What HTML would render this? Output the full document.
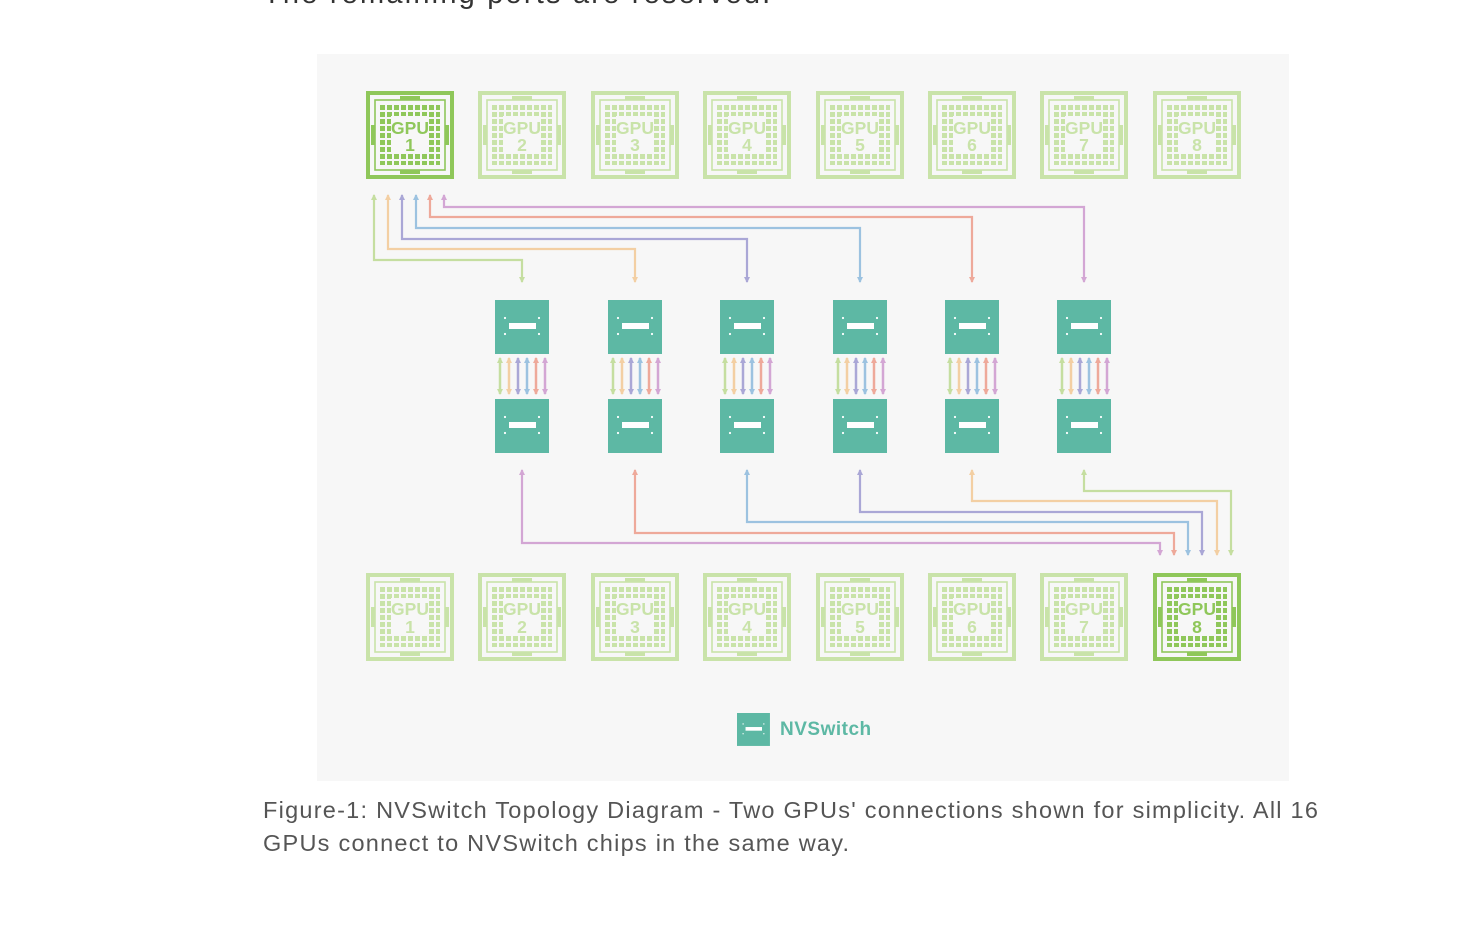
<!DOCTYPE html>
<html><head><meta charset="utf-8"><style>
html,body{margin:0;padding:0;background:#fff;width:1482px;height:936px;overflow:hidden;font-family:"Liberation Sans",sans-serif}
.t{position:absolute;left:263px;color:#333;font-size:29px;top:-22px;letter-spacing:2.2px}
.cap{position:absolute;left:263px;top:794px;color:#555;font-size:23.5px;line-height:33px;letter-spacing:1.25px}
svg{position:absolute;left:0;top:0}
</style></head><body>
<div class="t">The remaining ports are reserved.</div>
<svg width="1482" height="936" viewBox="0 0 1482 936">
<defs>
<pattern id="gl" x="0" y="0" width="7" height="7" patternUnits="userSpaceOnUse"><rect x="0" y="0" width="5" height="5" fill="#c9e3a9"/></pattern>
<pattern id="gd" x="0" y="0" width="7" height="7" patternUnits="userSpaceOnUse"><rect x="0" y="0" width="5" height="5" fill="#8fc75a"/></pattern>
<g id="gpuL">
<rect x="2" y="2" width="84" height="84" fill="#f7f7f7" stroke="#c9e3a9" stroke-width="4"/>
<rect x="9" y="9" width="70" height="70" fill="none" stroke="#c9e3a9" stroke-width="1.6"/>
<rect x="34" y="5" width="20" height="4" fill="#c9e3a9"/><rect x="34" y="79" width="20" height="4" fill="#c9e3a9"/>
<rect x="5" y="34" width="4" height="20" fill="#c9e3a9"/><rect x="79" y="34" width="4" height="20" fill="#c9e3a9"/>
<rect x="13" y="13" width="61" height="61" fill="url(#gl)"/>
<rect x="25" y="25" width="38" height="38" fill="#f7f7f7"/>
</g>
<g id="gpuD">
<rect x="2" y="2" width="84" height="84" fill="#f7f7f7" stroke="#8fc75a" stroke-width="4"/>
<rect x="9" y="9" width="70" height="70" fill="none" stroke="#8fc75a" stroke-width="1.6"/>
<rect x="34" y="5" width="20" height="4" fill="#8fc75a"/><rect x="34" y="79" width="20" height="4" fill="#8fc75a"/>
<rect x="5" y="34" width="4" height="20" fill="#8fc75a"/><rect x="79" y="34" width="4" height="20" fill="#8fc75a"/>
<rect x="13" y="13" width="61" height="61" fill="url(#gd)"/>
<rect x="25" y="25" width="38" height="38" fill="#f7f7f7"/>
</g>
<g id="sw">
<rect x="0" y="0" width="54" height="54" fill="#5db8a4"/>
<rect x="14" y="23" width="27" height="6" fill="#fff"/>
<circle cx="10" cy="18" r="1.1" fill="#fff"/><circle cx="44" cy="18" r="1.1" fill="#fff"/>
<circle cx="10" cy="34" r="1.1" fill="#fff"/><circle cx="44" cy="34" r="1.1" fill="#fff"/>
</g>
<marker id="mg" viewBox="0 0 6 6" refX="5" refY="3" markerWidth="6" markerHeight="6" markerUnits="userSpaceOnUse" orient="auto-start-reverse"><path d="M0,0L6,3L0,6z" fill="#c5dea0"/></marker>
<marker id="mo" viewBox="0 0 6 6" refX="5" refY="3" markerWidth="6" markerHeight="6" markerUnits="userSpaceOnUse" orient="auto-start-reverse"><path d="M0,0L6,3L0,6z" fill="#f3cfa3"/></marker>
<marker id="mp" viewBox="0 0 6 6" refX="5" refY="3" markerWidth="6" markerHeight="6" markerUnits="userSpaceOnUse" orient="auto-start-reverse"><path d="M0,0L6,3L0,6z" fill="#aaa7d6"/></marker>
<marker id="mb" viewBox="0 0 6 6" refX="5" refY="3" markerWidth="6" markerHeight="6" markerUnits="userSpaceOnUse" orient="auto-start-reverse"><path d="M0,0L6,3L0,6z" fill="#9cc2e0"/></marker>
<marker id="mr" viewBox="0 0 6 6" refX="5" refY="3" markerWidth="6" markerHeight="6" markerUnits="userSpaceOnUse" orient="auto-start-reverse"><path d="M0,0L6,3L0,6z" fill="#eea99a"/></marker>
<marker id="mv" viewBox="0 0 6 6" refX="5" refY="3" markerWidth="6" markerHeight="6" markerUnits="userSpaceOnUse" orient="auto-start-reverse"><path d="M0,0L6,3L0,6z" fill="#d3a6d4"/></marker>
<g id="bund" fill="none" stroke-width="2.5">
<line x1="4" y1="0" x2="4" y2="36" stroke="#c5dea0" marker-start="url(#mg)" marker-end="url(#mg)"/>
<line x1="13" y1="0" x2="13" y2="36" stroke="#f3cfa3" marker-start="url(#mo)" marker-end="url(#mo)"/>
<line x1="22" y1="0" x2="22" y2="36" stroke="#aaa7d6" marker-start="url(#mp)" marker-end="url(#mp)"/>
<line x1="31" y1="0" x2="31" y2="36" stroke="#9cc2e0" marker-start="url(#mb)" marker-end="url(#mb)"/>
<line x1="40" y1="0" x2="40" y2="36" stroke="#eea99a" marker-start="url(#mr)" marker-end="url(#mr)"/>
<line x1="49" y1="0" x2="49" y2="36" stroke="#d3a6d4" marker-start="url(#mv)" marker-end="url(#mv)"/>
</g>
</defs>
<rect x="317" y="54" width="972" height="727" fill="#f7f7f7"/>

<use href="#gpuD" x="366" y="91"/>
<use href="#gpuL" x="478" y="91"/>
<use href="#gpuL" x="591" y="91"/>
<use href="#gpuL" x="703" y="91"/>
<use href="#gpuL" x="816" y="91"/>
<use href="#gpuL" x="928" y="91"/>
<use href="#gpuL" x="1040" y="91"/>
<use href="#gpuL" x="1153" y="91"/>
<use href="#gpuL" x="366" y="573"/>
<use href="#gpuL" x="478" y="573"/>
<use href="#gpuL" x="591" y="573"/>
<use href="#gpuL" x="703" y="573"/>
<use href="#gpuL" x="816" y="573"/>
<use href="#gpuL" x="928" y="573"/>
<use href="#gpuL" x="1040" y="573"/>
<use href="#gpuD" x="1153" y="573"/>

<g font-family="Liberation Sans, sans-serif" font-weight="bold" font-size="17.5" text-anchor="middle" fill="#c9e3a9">
<text x="410" y="134" fill="#8fc75a">GPU</text><text x="410" y="151" fill="#8fc75a">1</text>
<text x="522" y="134">GPU</text><text x="522" y="151">2</text>
<text x="635" y="134">GPU</text><text x="635" y="151">3</text>
<text x="747" y="134">GPU</text><text x="747" y="151">4</text>
<text x="860" y="134">GPU</text><text x="860" y="151">5</text>
<text x="972" y="134">GPU</text><text x="972" y="151">6</text>
<text x="1084" y="134">GPU</text><text x="1084" y="151">7</text>
<text x="1197" y="134">GPU</text><text x="1197" y="151">8</text>
<text x="410" y="615">GPU</text><text x="410" y="633">1</text>
<text x="522" y="615">GPU</text><text x="522" y="633">2</text>
<text x="635" y="615">GPU</text><text x="635" y="633">3</text>
<text x="747" y="615">GPU</text><text x="747" y="633">4</text>
<text x="860" y="615">GPU</text><text x="860" y="633">5</text>
<text x="972" y="615">GPU</text><text x="972" y="633">6</text>
<text x="1084" y="615">GPU</text><text x="1084" y="633">7</text>
<text x="1197" y="615" fill="#8fc75a">GPU</text><text x="1197" y="633" fill="#8fc75a">8</text>
</g>

<g fill="none" stroke-width="2.2">
<path d="M374,195V260H522V282" stroke="#c5dea0" marker-start="url(#mg)" marker-end="url(#mg)"/>
<path d="M388,195V249H635V282" stroke="#f3cfa3" marker-start="url(#mo)" marker-end="url(#mo)"/>
<path d="M402,195V239H747V282" stroke="#aaa7d6" marker-start="url(#mp)" marker-end="url(#mp)"/>
<path d="M416,195V228H860V282" stroke="#9cc2e0" marker-start="url(#mb)" marker-end="url(#mb)"/>
<path d="M430,195V217H972V282" stroke="#eea99a" marker-start="url(#mr)" marker-end="url(#mr)"/>
<path d="M444,195V207H1084V282" stroke="#d3a6d4" marker-start="url(#mv)" marker-end="url(#mv)"/>
<path d="M522,470V543H1160V555" stroke="#d3a6d4" marker-start="url(#mv)" marker-end="url(#mv)"/>
<path d="M635,470V533H1174V555" stroke="#eea99a" marker-start="url(#mr)" marker-end="url(#mr)"/>
<path d="M747,470V522H1188V555" stroke="#9cc2e0" marker-start="url(#mb)" marker-end="url(#mb)"/>
<path d="M860,470V512H1202V555" stroke="#aaa7d6" marker-start="url(#mp)" marker-end="url(#mp)"/>
<path d="M972,470V501H1217V555" stroke="#f3cfa3" marker-start="url(#mo)" marker-end="url(#mo)"/>
<path d="M1084,470V491H1231V555" stroke="#c5dea0" marker-start="url(#mg)" marker-end="url(#mg)"/>
</g>

<use href="#sw" x="495" y="300"/><use href="#sw" x="495" y="399"/><use href="#bund" x="496" y="358"/>
<use href="#sw" x="608" y="300"/><use href="#sw" x="608" y="399"/><use href="#bund" x="609" y="358"/>
<use href="#sw" x="720" y="300"/><use href="#sw" x="720" y="399"/><use href="#bund" x="721" y="358"/>
<use href="#sw" x="833" y="300"/><use href="#sw" x="833" y="399"/><use href="#bund" x="834" y="358"/>
<use href="#sw" x="945" y="300"/><use href="#sw" x="945" y="399"/><use href="#bund" x="946" y="358"/>
<use href="#sw" x="1057" y="300"/><use href="#sw" x="1057" y="399"/><use href="#bund" x="1058" y="358"/>

<g transform="translate(737,713) scale(0.61)"><use href="#sw"/></g>
<text x="780" y="735" font-family="Liberation Sans, sans-serif" font-weight="bold" font-size="19" fill="#5db8a4" letter-spacing="0.5">NVSwitch</text>
</svg>
<div class="cap">Figure-1: NVSwitch Topology Diagram - Two GPUs' connections shown for simplicity. All 16<br>GPUs connect to NVSwitch chips in the same way.</div>
</body></html>
